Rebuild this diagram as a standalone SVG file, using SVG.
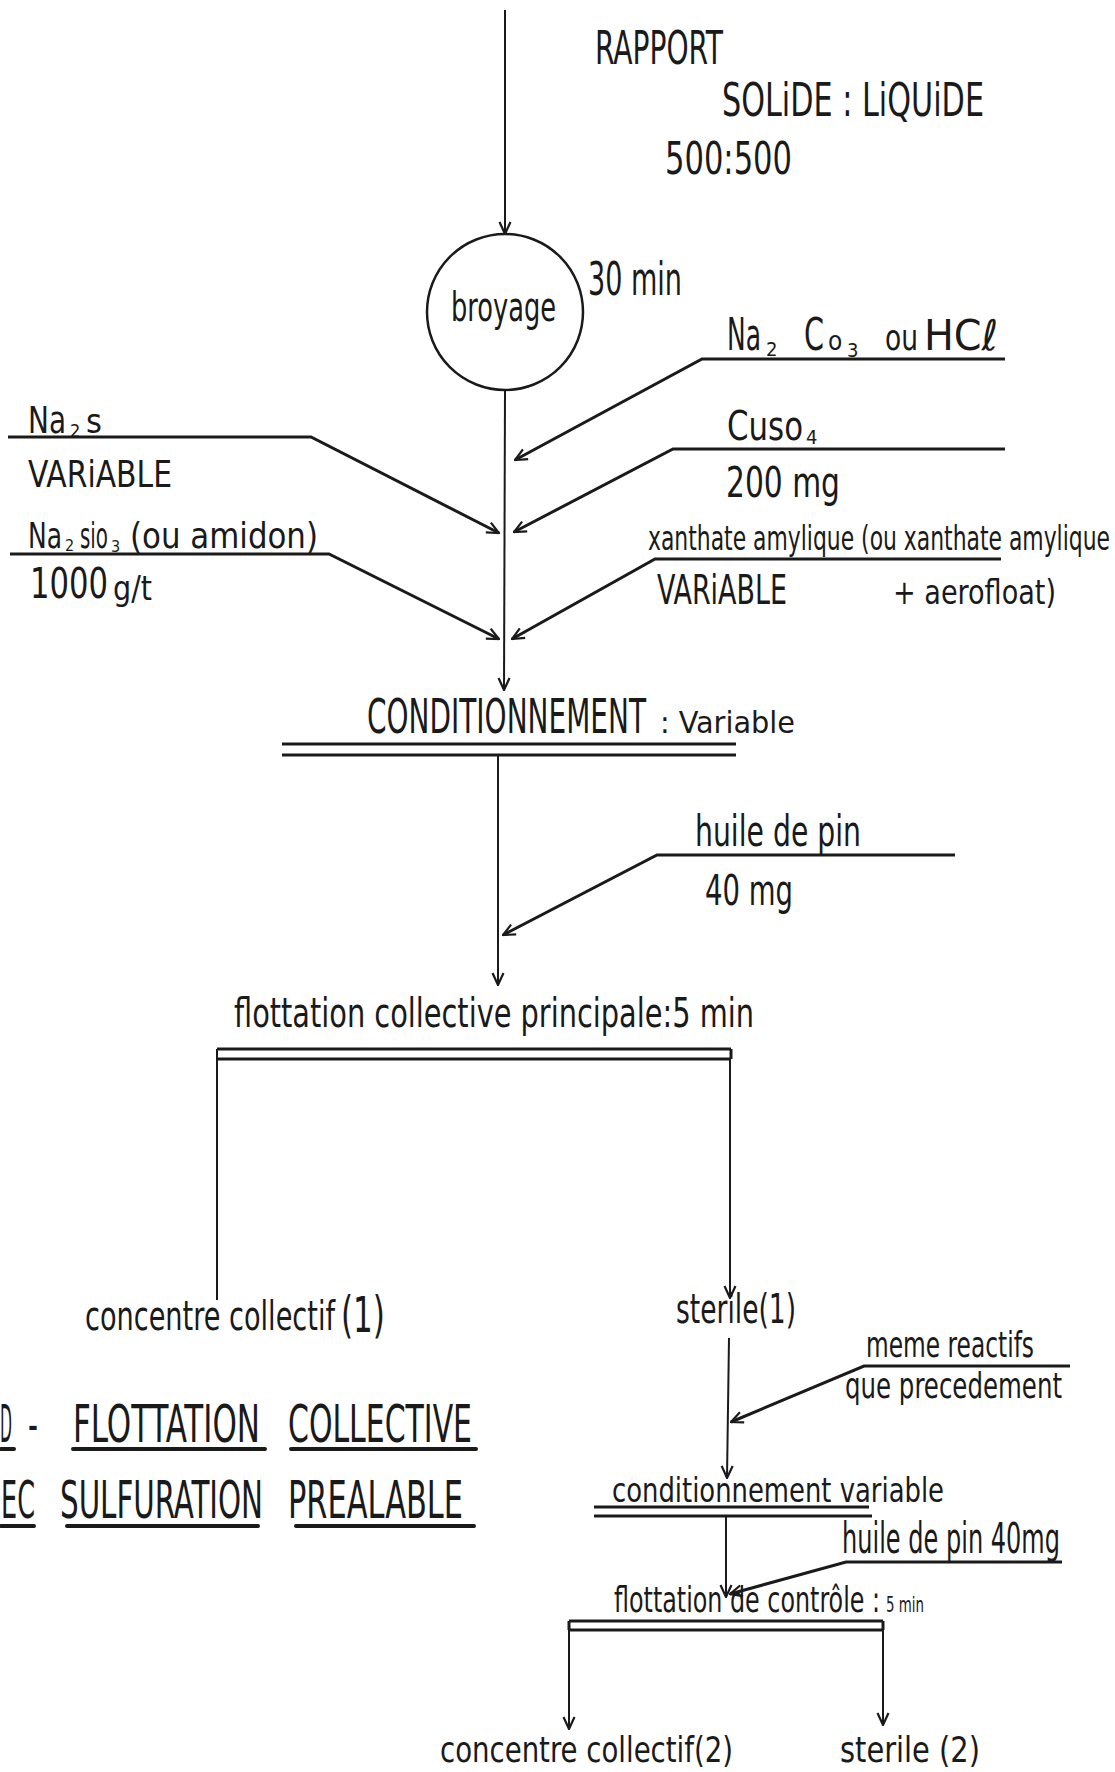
<svg xmlns="http://www.w3.org/2000/svg" width="1115" height="1772" viewBox="0 0 1115 1772">
<defs>
<style>
.t{font-family:"DejaVu Sans Condensed","Liberation Sans",sans-serif;fill:#1a1a1a;font-weight:normal}
.ln{fill:none;stroke:#1a1a1a;stroke-width:2}
.rg{fill:none;stroke:#1a1a1a;stroke-width:3}
.ul{fill:none;stroke:#1a1a1a;stroke-width:4;stroke-linecap:round}
</style>
<marker id="ah" viewBox="0 0 14 14" refX="13" refY="7" markerWidth="14" markerHeight="14" orient="auto" markerUnits="userSpaceOnUse">
<path d="M1,1.5 L13,7 L1,12.5" fill="none" stroke="#1a1a1a" stroke-width="2.2"/>
</marker>
</defs>
<rect width="1115" height="1772" fill="#ffffff"/>

<g id="connectors">
<path class="ln" d="M505,10 L505,234" marker-end="url(#ah)"/>
<path class="ln" d="M505,390 L504,690" marker-end="url(#ah)"/>
<path class="rg" d="M1005,359 L702,359 L515,460" marker-end="url(#ah)"/>
<path class="rg" d="M1005,449 L673,449 L514,532" marker-end="url(#ah)"/>
<path class="rg" d="M8,437 L311,437 L499,533" marker-end="url(#ah)"/>
<path class="rg" d="M10,554 L329,554 L499,639" marker-end="url(#ah)"/>
<path class="rg" d="M1001,559 L655,559 L512,639" marker-end="url(#ah)"/>
<path class="ln" d="M498,755 L498,985" marker-end="url(#ah)"/>
<path class="rg" d="M955,855 L657,855 L503,935" marker-end="url(#ah)"/>
<path class="ln" d="M217,1049 L217,1300"/>
<path class="ln" d="M730,1059 L730,1298" marker-end="url(#ah)"/>
<path class="ln" d="M729,1338 L727,1478" marker-end="url(#ah)"/>
<path class="rg" d="M1070,1366 L864,1366 L731,1422" marker-end="url(#ah)"/>
<path class="ln" d="M726,1516 L726,1597" marker-end="url(#ah)"/>
<path class="rg" d="M1062,1562 L846,1562 L730,1594" marker-end="url(#ah)"/>
<path class="ln" d="M569,1630 L569,1729" marker-end="url(#ah)"/>
<path class="ln" d="M883,1630 L883,1725" marker-end="url(#ah)"/>
</g>

<g id="rapport">
<text class="t" x="595" y="64" font-size="46" textLength="128" lengthAdjust="spacingAndGlyphs">RAPPORT</text>
<text class="t" x="722" y="116" font-size="46" textLength="262" lengthAdjust="spacingAndGlyphs">SOLiDE : LiQUiDE</text>
<text class="t" x="665" y="174" font-size="44" textLength="127" lengthAdjust="spacingAndGlyphs">500:500</text>
</g>

<g id="broyage">
<circle cx="505" cy="312" r="78" fill="none" stroke="#1a1a1a" stroke-width="2.5"/>
<text class="t" x="451" y="321" font-size="40" textLength="105" lengthAdjust="spacingAndGlyphs">broyage</text>
<text class="t" x="588" y="295" font-size="46" textLength="94" lengthAdjust="spacingAndGlyphs">30 min</text>
</g>

<g id="na2co3">
<text class="t" font-size="44"><tspan x="727" y="350" textLength="34" lengthAdjust="spacingAndGlyphs">Na</tspan><tspan x="766" y="356" font-size="20">2</tspan><tspan x="804" y="350" textLength="20" lengthAdjust="spacingAndGlyphs">C</tspan><tspan x="828" y="350" font-size="26">o</tspan><tspan x="847" y="357" font-size="20">3</tspan><tspan x="885" y="350" font-size="36" textLength="33" lengthAdjust="spacingAndGlyphs">ou</tspan><tspan x="924" y="350" font-size="42" textLength="74" lengthAdjust="spacingAndGlyphs">HCℓ</tspan></text>
</g>

<g id="cuso4">
<text class="t" font-size="40"><tspan x="727" y="440" textLength="76" lengthAdjust="spacingAndGlyphs">Cuso</tspan><tspan x="806" y="444" font-size="20">4</tspan></text>
<text class="t" x="726" y="497" font-size="42" textLength="114" lengthAdjust="spacingAndGlyphs">200 mg</text>
</g>

<g id="na2s">
<text class="t" font-size="38"><tspan x="28" y="433" textLength="38" lengthAdjust="spacingAndGlyphs">Na</tspan><tspan x="70" y="437" font-size="18">2</tspan><tspan x="86" y="433" font-size="34">s</tspan></text>
<text class="t" x="28" y="487" font-size="38" textLength="144" lengthAdjust="spacingAndGlyphs">VARiABLE</text>
</g>

<g id="na2sio3">
<text class="t" font-size="36"><tspan x="28" y="548" textLength="34" lengthAdjust="spacingAndGlyphs">Na</tspan><tspan x="65" y="551" font-size="16">2</tspan><tspan x="80" y="548" textLength="28" lengthAdjust="spacingAndGlyphs">sio</tspan><tspan x="111" y="552" font-size="16">3</tspan><tspan x="130" y="548" textLength="188" lengthAdjust="spacingAndGlyphs">(ou amidon)</tspan></text>
<text class="t" font-size="42"><tspan x="30" y="598" textLength="78" lengthAdjust="spacingAndGlyphs">1000</tspan><tspan x="113" y="600" font-size="34" textLength="39" lengthAdjust="spacingAndGlyphs">g/t</tspan></text>
</g>

<g id="xanthate">
<text class="t" x="648" y="550" font-size="34" textLength="462" lengthAdjust="spacingAndGlyphs">xanthate amylique (ou xanthate amylique</text>
<text class="t" x="657" y="604" font-size="40" textLength="130" lengthAdjust="spacingAndGlyphs">VARiABLE</text>
<text class="t" x="893" y="604" font-size="34" textLength="163" lengthAdjust="spacingAndGlyphs">+ aerofloat)</text>
</g>

<g id="conditionnement">
<text class="t" y="733"><tspan x="367" font-size="48" textLength="279" lengthAdjust="spacingAndGlyphs">CONDITIONNEMENT</tspan><tspan x="660" font-size="30" textLength="135" lengthAdjust="spacingAndGlyphs">: Variable</tspan></text>
<path class="rg" d="M282,744 L736,744 M282,755 L736,755"/>
</g>

<g id="huile1">
<text class="t" x="695" y="846" font-size="42" textLength="166" lengthAdjust="spacingAndGlyphs">huile de pin</text>
<text class="t" x="705" y="905" font-size="42" textLength="88" lengthAdjust="spacingAndGlyphs">40 mg</text>
</g>

<g id="flottation-principale">
<text class="t" x="234" y="1027" font-size="40" textLength="520" lengthAdjust="spacingAndGlyphs">flottation collective principale:5 min</text>
<path class="rg" d="M217,1049 L731,1049 M217,1059 L731,1059 M731,1049 L731,1059"/>
</g>

<g id="concentre1">
<text class="t" font-size="40"><tspan x="85" y="1330" textLength="250" lengthAdjust="spacingAndGlyphs">concentre collectif</tspan><tspan x="341" y="1332" font-size="50" textLength="44" lengthAdjust="spacingAndGlyphs">(1)</tspan></text>
</g>

<g id="sterile1">
<text class="t" x="676" y="1323" font-size="40" textLength="120" lengthAdjust="spacingAndGlyphs">sterile(1)</text>
</g>

<g id="meme-reactifs">
<text class="t" x="866" y="1357" font-size="36" textLength="168" lengthAdjust="spacingAndGlyphs">meme reactifs</text>
<text class="t" x="845" y="1398" font-size="36" textLength="217" lengthAdjust="spacingAndGlyphs">que precedement</text>
</g>

<g id="title">
<text class="t" y="1442" font-size="51"><tspan x="0" textLength="12" lengthAdjust="spacingAndGlyphs">D</tspan><tspan x="28" textLength="10" lengthAdjust="spacingAndGlyphs">-</tspan><tspan x="73" textLength="187" lengthAdjust="spacingAndGlyphs">FLOTTATION</tspan><tspan x="288" textLength="184" lengthAdjust="spacingAndGlyphs">COLLECTIVE</tspan></text>
<text class="t" y="1518" font-size="51"><tspan x="1" textLength="34" lengthAdjust="spacingAndGlyphs">EC</tspan><tspan x="60" textLength="203" lengthAdjust="spacingAndGlyphs">SULFURATION</tspan><tspan x="288" textLength="175" lengthAdjust="spacingAndGlyphs">PREALABLE</tspan></text>
<path class="ul" d="M1,1449 L14,1449 M73,1449 L265,1449 M291,1449 L476,1449 M1,1526 L34,1526 M67,1526 L258,1526 M296,1526 L474,1526"/>
</g>

<g id="conditionnement-variable">
<text class="t" x="612" y="1502" font-size="34" textLength="332" lengthAdjust="spacingAndGlyphs">conditionnement variable</text>
<path class="rg" d="M594,1507 L869,1507 M594,1516 L872,1516"/>
</g>

<g id="huile2">
<text class="t" x="842" y="1553" font-size="42" textLength="218" lengthAdjust="spacingAndGlyphs">huile de pin 40mg</text>
</g>

<g id="flottation-controle">
<text class="t" y="1612"><tspan x="614" font-size="36" textLength="266" lengthAdjust="spacingAndGlyphs">flottation de contrôle :</tspan><tspan x="886" font-size="22" textLength="38" lengthAdjust="spacingAndGlyphs">5 min</tspan></text>
<path class="rg" d="M569,1621 L883,1621 M569,1630 L883,1630 M569,1621 L569,1630 M883,1621 L883,1630"/>
</g>

<g id="concentre2">
<text class="t" x="440" y="1762" font-size="36" textLength="293" lengthAdjust="spacingAndGlyphs">concentre collectif(2)</text>
</g>

<g id="sterile2">
<text class="t" x="840" y="1762" font-size="36" textLength="140" lengthAdjust="spacingAndGlyphs">sterile (2)</text>
</g>
</svg>
